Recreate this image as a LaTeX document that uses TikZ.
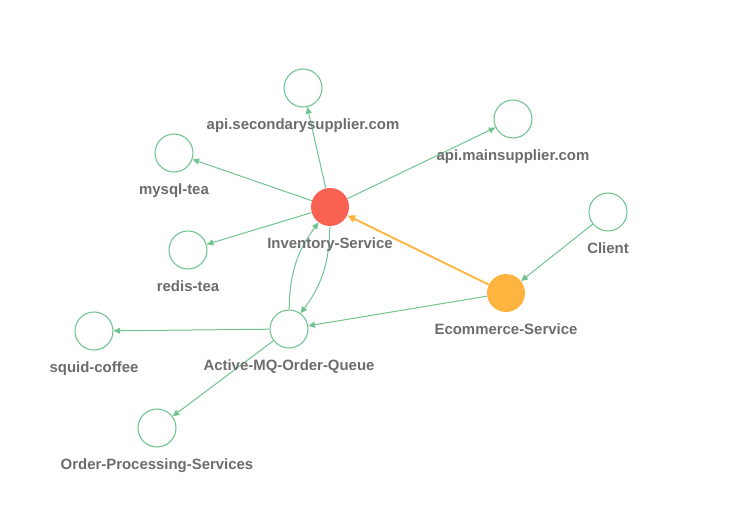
\documentclass[tikz,border=0pt]{standalone}
\usepackage{fontspec}
\setmainfont{Liberation Sans}
\usetikzlibrary{positioning,arrows.meta}
\definecolor{linkgreen}{RGB}{112,196,143}
\definecolor{labgray}{RGB}{108,108,108}
\definecolor{hotred}{RGB}{249,98,82}
\definecolor{warmorange}{RGB}{255,180,64}
\tikzset{
	svc/.style = {circle, minimum size=28.5pt, inner sep=0pt, draw=linkgreen, line width=0.8pt, fill=white},
	busy/.style = {circle, minimum size=28.5pt, inner sep=0pt, fill=#1},
	lab/.style = {inner sep=0pt, text height=8pt, text depth=2.4pt, text=labgray, font=\fontsize{11.2}{13}\selectfont\bfseries},
	link/.style = {draw=linkgreen, line width=0.75pt, -{Triangle[length=5pt,width=4.5pt]}},
	hotlink/.style = {draw=warmorange, line width=1.4pt, -{Triangle[length=6pt,width=5.5pt]}}
}
\begin{document}
\begin{tikzpicture}[x=0.75pt, y=-0.75pt]
\useasboundingbox (0,0) rectangle (750,522);

% NODES
\node (inv) [busy=hotred] at (330,207) {};
\node (ecom) [busy=warmorange] at (506,293) {};
\node (second) [svc] at (303,88) {};
\node (main) [svc] at (513,119) {};
\node (mysql) [svc] at (174,153) {};
\node (redis) [svc] at (188,250) {};
\node (client) [svc] at (608,212) {};
\node (mq) [svc] at (289,329) {};
\node (squid) [svc] at (94,331) {};
\node (proc) [svc] at (157,428) {};

%CONNECTIONS
\draw [link] (inv) -- (second);
\draw [link] (inv) -- (main);
\draw [link] (inv) -- (mysql);
\draw [link] (inv) -- (redis);
\draw [link] (inv) to[bend left=18] (mq);
\draw [link] (mq) to[bend left=18] (inv);
\draw [link] (client) -- (ecom);
\draw [link] (ecom) -- (mq);
\draw [link] (mq) -- (squid);
\draw [link] (mq) -- (proc);
\draw [hotlink] (ecom) -- (inv);

% LABELS
\node (invlab) [lab, below=8.5pt of inv] {Inventory-Service};
\node (ecomlab) [lab, below=8.5pt of ecom] {Ecommerce-Service};
\node (secondlab) [lab, below=8.5pt of second] {api.secondarysupplier.com};
\node (mainlab) [lab, below=8.5pt of main] {api.mainsupplier.com};
\node (mysqllab) [lab, below=8.5pt of mysql] {mysql-tea};
\node (redislab) [lab, below=8.5pt of redis] {redis-tea};
\node (clientlab) [lab, below=8.5pt of client] {Client};
\node (mqlab) [lab, below=8.5pt of mq] {Active-MQ-Order-Queue};
\node (squidlab) [lab, below=8.5pt of squid] {squid-coffee};
\node (proclab) [lab, below=8.5pt of proc] {Order-Processing-Services};

\end{tikzpicture}
\end{document}
